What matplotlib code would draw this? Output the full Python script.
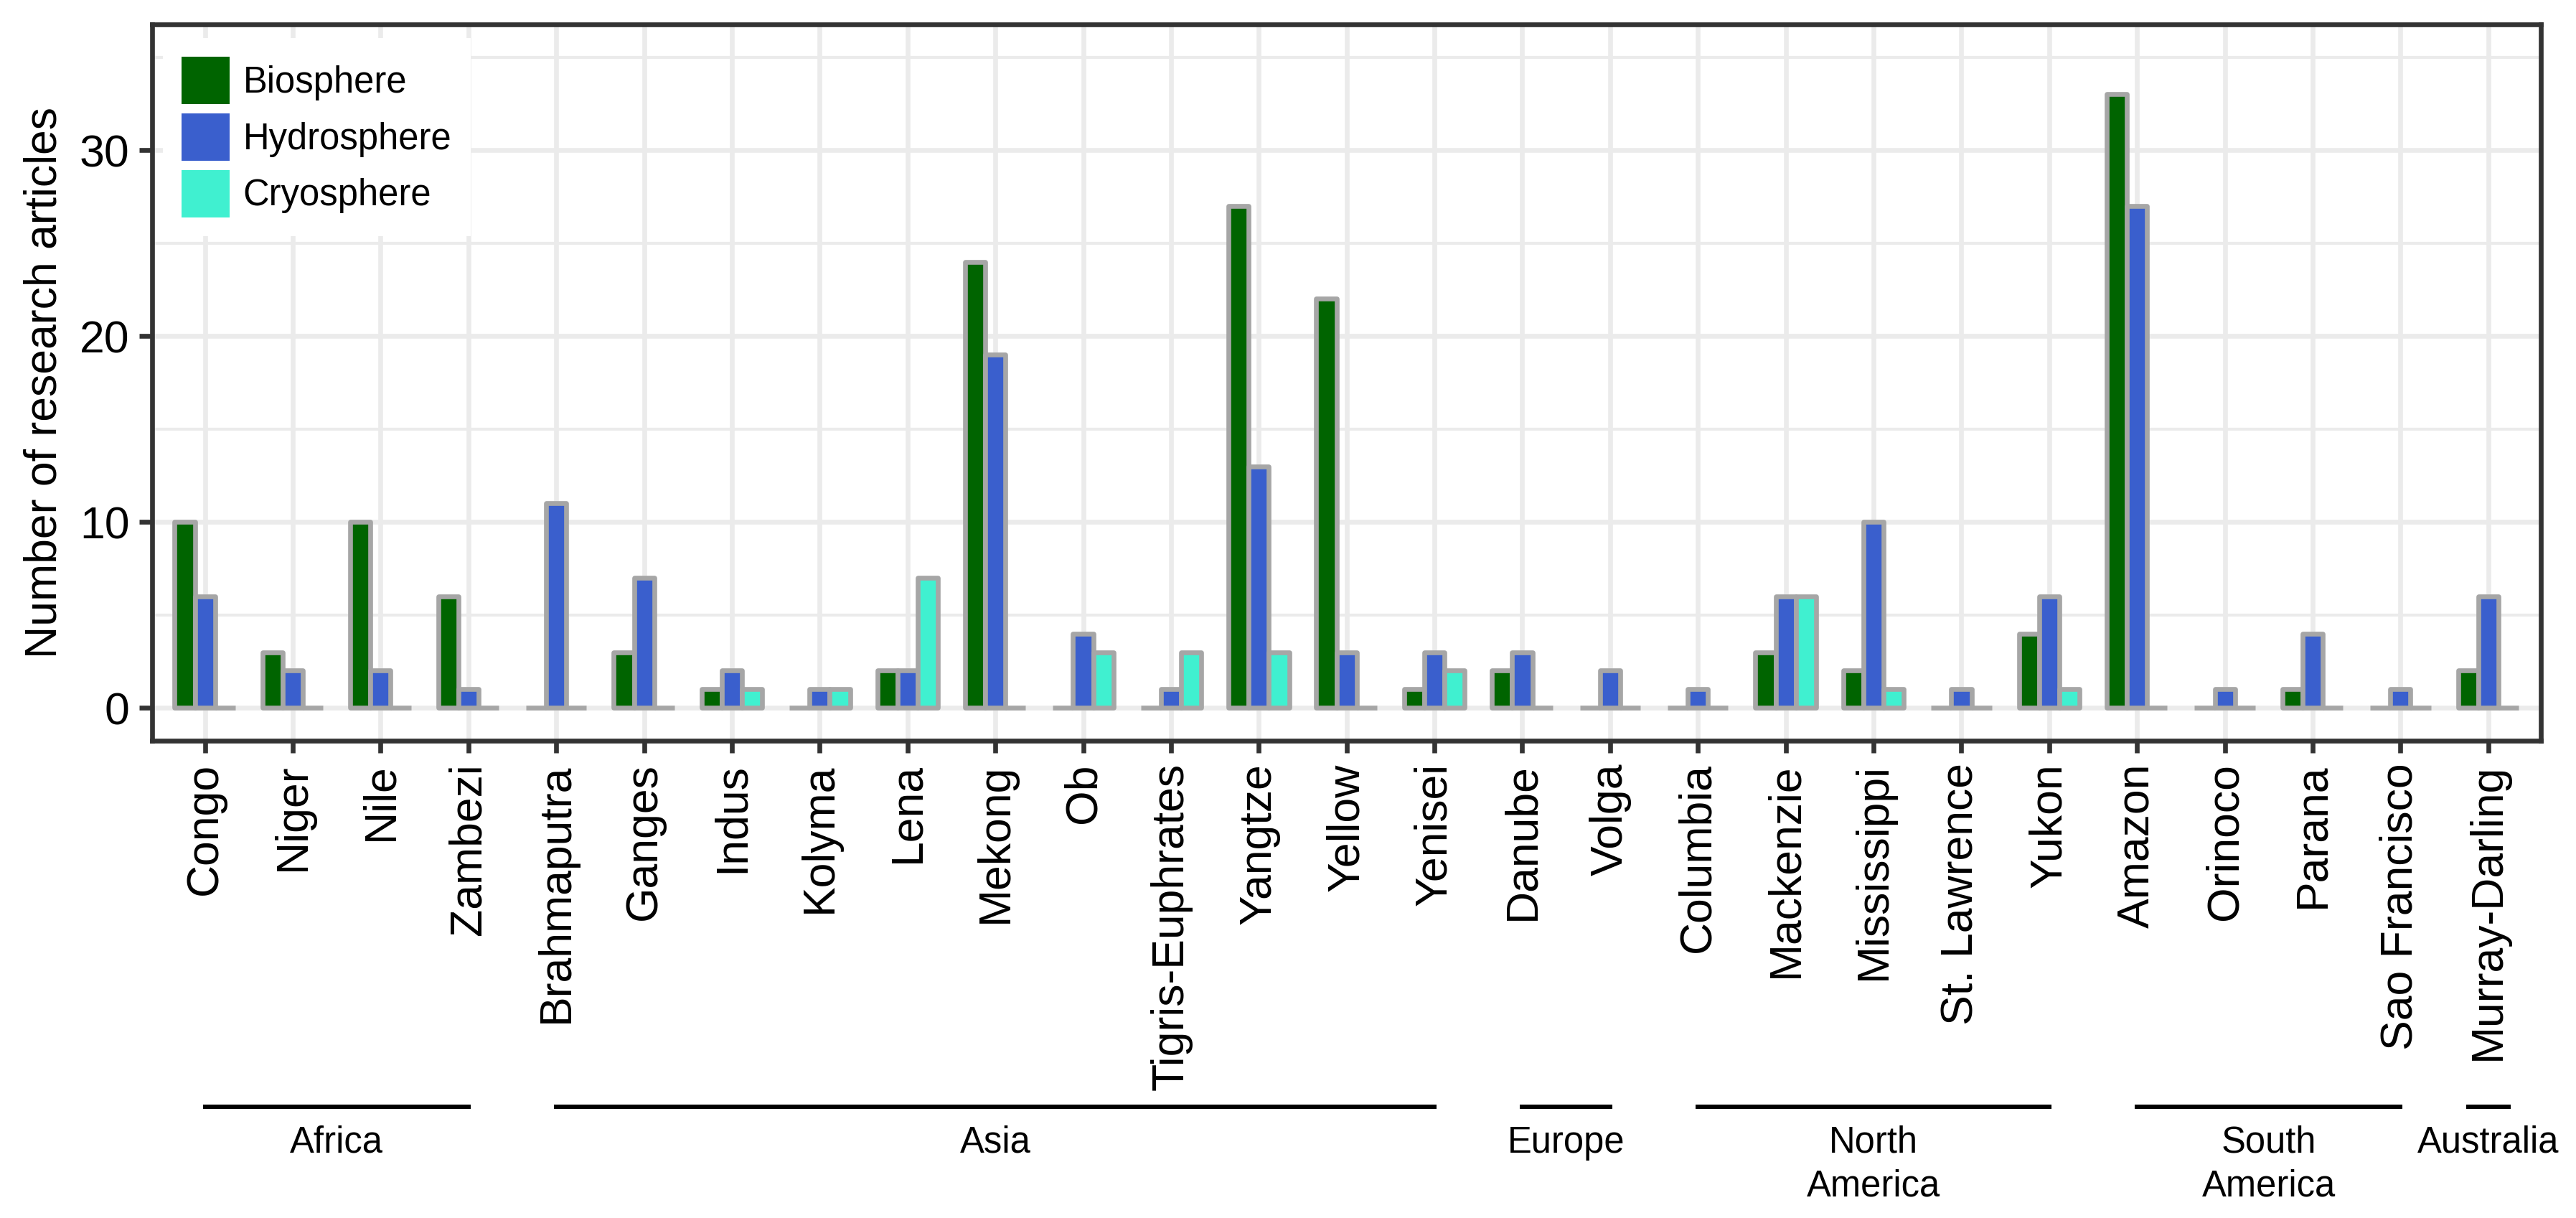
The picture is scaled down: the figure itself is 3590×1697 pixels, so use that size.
import numpy as np
import matplotlib
matplotlib.use("Agg")
import matplotlib.pyplot as plt
import matplotlib.transforms as mtransforms
from matplotlib.patches import Patch

# data
rivers = ['Congo', 'Niger', 'Nile', 'Zambezi', 'Brahmaputra', 'Ganges', 'Indus',
          'Kolyma', 'Lena', 'Mekong', 'Ob', 'Tigris-Euphrates', 'Yangtze', 'Yellow',
          'Yenisei', 'Danube', 'Volga', 'Columbia', 'Mackenzie', 'Mississippi',
          'St. Lawrence', 'Yukon', 'Amazon', 'Orinoco', 'Parana', 'Sao Francisco',
          'Murray-Darling']
biosphere = [10, 3, 10, 6, 0, 3, 1, 0, 2, 24, 0, 0, 27, 22, 1, 2, 0, 0, 3, 2, 0, 4, 33, 0, 1, 0, 2]
hydrosphere = [6, 2, 2, 1, 11, 7, 2, 1, 2, 19, 4, 1, 13, 3, 3, 3, 2, 1, 6, 10, 1, 6, 27, 1, 4, 1, 6]
cryosphere = [0, 0, 0, 0, 0, 0, 1, 1, 7, 0, 3, 3, 3, 0, 2, 0, 0, 0, 6, 1, 0, 1, 0, 0, 0, 0, 0]
series_names = ['Biosphere', 'Hydrosphere', 'Cryosphere']
continents = ['Africa', 'Asia', 'Europe', 'North\nAmerica', 'South\nAmerica', 'Australia']
continent_first = [0, 4, 15, 17, 22, 26]
continent_last = [3, 14, 16, 21, 25, 26]

colors = ['#006400', '#3A5FCD', '#40F0D0']
edge = '#A6A6A6'
grid_col = '#EBEBEB'
dark = '#333333'

plt.rcParams['font.family'] = ['Liberation Sans', 'DejaVu Sans']

W, H = 3590, 1697
fig = plt.figure(figsize=(W / 300, H / 300), dpi=300)
ax = fig.add_axes([212.2 / W, 1 - 1031.6 / H, 3329 / W, 997.3 / H])

x = np.arange(len(rivers))
w = 0.23
for i, (vals, name) in enumerate(zip([biosphere, hydrosphere, cryosphere], series_names)):
    ax.bar(x + (i - 1) * w, vals, width=w, color=colors[i], edgecolor=edge,
           linewidth=1.6, joinstyle='round', zorder=3, label=name)

ax.set_xlim(-0.6, len(rivers) - 0.4)
ax.set_ylim(-1.75, 36.75)
ax.set_xticks(x)
ax.set_xticklabels(rivers, rotation=90, ha='center', va='top', fontsize=15)
ax.set_yticks([0, 10, 20, 30])
ax.set_yticks([5, 15, 25, 35], minor=True)
ax.tick_params(axis='y', labelsize=15, length=4.3, width=1.6, color=dark, pad=3.3)
ax.tick_params(axis='x', length=4, width=1.6, color=dark, pad=3.6)
ax.tick_params(axis='y', which='minor', length=0)

ax.set_axisbelow(True)
ax.grid(which='major', color=grid_col, linewidth=1.6)
ax.grid(which='minor', axis='y', color=grid_col, linewidth=1.0)
for s in ax.spines.values():
    s.set_color(dark)
    s.set_linewidth(1.6)

ax.set_ylabel('Number of research articles', fontsize=15)
ax.yaxis.set_label_coords(-0.0364, 0.5)

handles = [Patch(facecolor=c, edgecolor='none') for c in colors]
leg = ax.legend(handles, series_names, loc='upper left',
                bbox_to_anchor=(0.0044, 0.9817), borderaxespad=0, fontsize=12.2,
                handlelength=1.32, handleheight=1.62, labelspacing=0.255,
                handletextpad=0.36, borderpad=0.52, fancybox=False,
                framealpha=1, facecolor='white', edgecolor='none')
leg.set_zorder(5)

# continent brackets below the tick labels
trans = mtransforms.blended_transform_factory(ax.transData, fig.transFigure)
for name, a, b in zip(continents, continent_first, continent_last):
    if a == b:
        x0, x1 = a - 0.23, b + 0.23
    else:
        x0, x1 = a, b
    ax.plot([x0, x1], [0.0916, 0.0916], color='black', linewidth=1.45,
            transform=trans, clip_on=False)
    ax.text((a + b) / 2, 0.0762, name, transform=trans, ha='center', va='top',
            fontsize=12.2, linespacing=1.32)

fig.savefig('out.png', dpi=300)
